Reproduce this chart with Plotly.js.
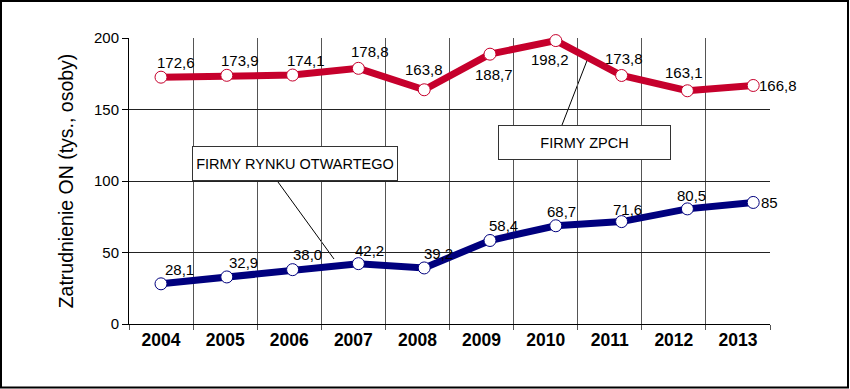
<!DOCTYPE html>
<html>
<head>
<meta charset="utf-8">
<script src="https://cdn.plot.ly/plotly-3.0.1.min.js"></script>
<style>html,body{margin:0;padding:0;background:#fff;}#chart{width:850px;height:389px;}</style>
</head>
<body>
<div id="chart"></div>
<script>
// ---- data ----
const years = ['2004','2005','2006','2007','2008','2009','2010','2011','2012','2013'];
const zpch = [172.6, 173.9, 174.1, 178.8, 163.8, 188.7, 198.2, 173.8, 163.1, 166.8];
const zpchLabels = ['172,6','173,9','174,1','178,8','163,8','188,7','198,2','173,8','163,1','166,8'];
const open = [28.1, 32.9, 38.0, 42.2, 39.2, 58.4, 68.7, 71.6, 80.5, 85];
const openLabels = ['28,1','32,9','38,0','42,2','39,2','58,4','68,7','71,6','80,5','85'];
const yTicks = [0, 50, 100, 150, 200];
const seriesNames = ['FIRMY ZPCH', 'FIRMY RYNKU OTWARTEGO'];

// ---- styles / label offsets (pixels: dx right, dy down) ----
const zpchShift = [[15,-15],[13,-15],[13,-15],[12,-17],[0,-20],[4,20],[-6,19],[2,-17],[-3,-18],[25,0]];
const openShift = [[18,-14],[17,-14],[15,-15],[11,-13],[14,-14],[13,-15],[6,-14],[6,-12],[4,-13],[16,0]];
const RED = '#C6002C', BLUE = '#00007E';
const NARROW = '"Liberation Sans Narrow", "Arial Narrow", "Liberation Sans", Arial, sans-serif';

const W = 850, H = 389, L = 129, R = 770, T = 38, B = 324;
const px = x => (x - L) / (R - L);
const py = y => (B - y) / (B - T);

const xNum = years.map(Number);
const mk = (vals, color) => ({
  type: 'scatter', mode: 'lines+markers', x: xNum, y: vals,
  cliponaxis: false, hoverinfo: 'skip',
  line: {color: color, width: 7},
  marker: {size: 12, color: '#fff', line: {color: color, width: 1}}
});
const traces = [
  Object.assign(mk(zpch, RED), {name: seriesNames[0]}),
  Object.assign(mk(open, BLUE), {name: seriesNames[1]})
];

const annotations = [];
function addLabels(vals, labels, shifts) {
  vals.forEach((v, i) => annotations.push({
    xref: 'x', yref: 'y', x: xNum[i], y: v, text: labels[i], showarrow: false,
    xanchor: 'center', yanchor: 'middle',
    xshift: shifts[i][0], yshift: -shifts[i][1],
    font: {family: NARROW, size: 15, color: '#000'}
  }));
}
addLabels(zpch, zpchLabels, zpchShift);
addLabels(open, openLabels, openShift);
const boxStyle = {showarrow: false, borderpad: 0, borderwidth: 1, bordercolor: '#333', bgcolor: '#fff',
  xref: 'paper', yref: 'paper', xanchor: 'center', yanchor: 'middle',
  font: {family: NARROW, size: 14.5, color: '#000'}};
annotations.push(Object.assign({}, boxStyle, {x: px(295), y: py(163.5), text: seriesNames[1], width: 204, height: 33}));
annotations.push(Object.assign({}, boxStyle, {x: px(584.5), y: py(142.5), text: seriesNames[0], width: 171, height: 33}));

const shapes = [
  {type: 'line', xref: 'paper', yref: 'paper', x0: px(278), y0: py(182), x1: px(334), y1: py(259), line: {color: '#000', width: 1}, layer: 'below'},
  {type: 'line', xref: 'paper', yref: 'paper', x0: px(562), y0: py(125), x1: px(588), y1: py(58), line: {color: '#000', width: 1}, layer: 'below'},
  {type: 'rect', xref: 'paper', yref: 'paper', x0: px(1), y0: py(1), x1: px(848), y1: py(387.5), line: {color: '#000', width: 2}, layer: 'below'}
];

// markers are spaced a bit wider than the category bands (as in the reference)
const uPx = 65.8, firstPx = 161, bandPx = (R - L) / years.length;
const xStart = xNum[0] + (L - firstPx) / uPx;
const xEnd = xStart + (R - L) / uPx;
const toData = p => xStart + (p - L) / uPx;
const bandCenters = years.map((_, k) => toData(L + bandPx * (k + 0.5)));
const bandEdges = [];
for (let k = 0; k <= years.length; k++) bandEdges.push(toData(L + bandPx * k));

const layout = {
  width: W, height: H, showlegend: false,
  paper_bgcolor: '#fff', plot_bgcolor: 'rgba(0,0,0,0)',
  margin: {l: L, r: W - R, t: T, b: H - B, pad: 0},
  font: {family: NARROW, size: 15, color: '#000'},
  xaxis: {
    type: 'linear', range: [xStart, xEnd], fixedrange: true,
    tickmode: 'array', tickvals: bandCenters, ticktext: years, ticks: '',
    showgrid: false, zeroline: false, showline: true, linecolor: '#000', linewidth: 1,
    tickfont: {family: NARROW, size: 17.5, color: '#000', weight: 'bold'},
    minor: {tickmode: 'array', tickvals: bandEdges, ticks: 'outside', ticklen: 5, tickcolor: '#555', tickwidth: 1,
            showgrid: true, gridcolor: '#555', gridwidth: 1}
  },
  yaxis: {
    range: [0, 200], tickmode: 'array', tickvals: yTicks,
    ticks: 'outside', ticklen: 6, tickcolor: '#000',
    showgrid: true, gridcolor: '#222', gridwidth: 1, zeroline: false,
    showline: true, linecolor: '#000', linewidth: 1,
    tickfont: {family: NARROW, size: 15, color: '#000'},
    title: {text: 'Zatrudnienie ON (tys., osoby)', font: {family: NARROW, size: 19.5, color: '#000'}, standoff: 15},
    fixedrange: true
  },
  annotations: annotations,
  shapes: shapes
};

Plotly.newPlot('chart', traces, layout, {staticPlot: true, displayModeBar: false});
</script>
</body>
</html>
